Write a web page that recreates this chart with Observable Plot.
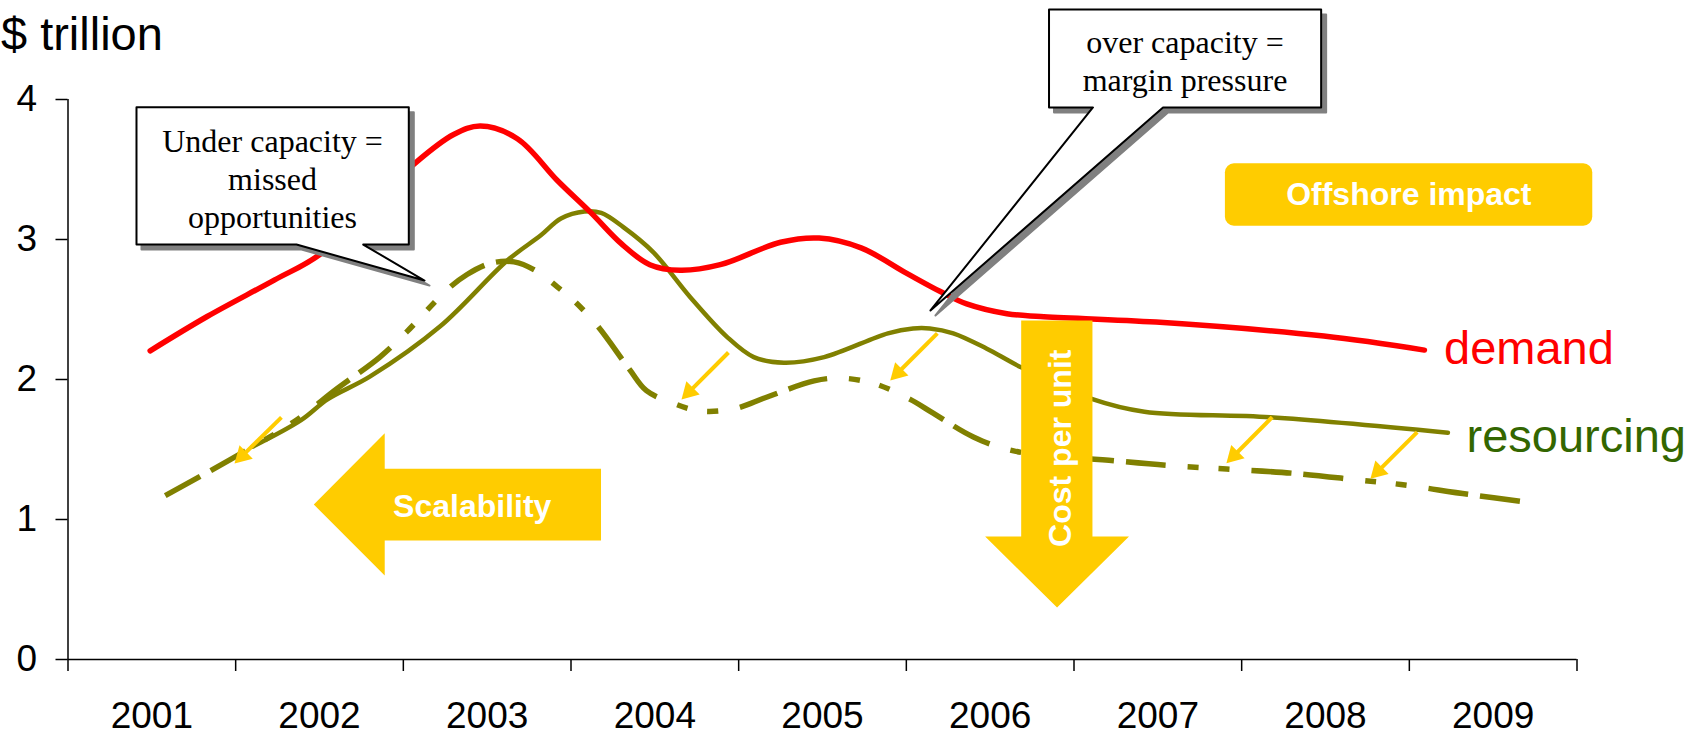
<!DOCTYPE html>
<html>
<head>
<meta charset="utf-8">
<script src="https://cdn.jsdelivr.net/npm/d3@7"></script>
<script src="https://cdn.jsdelivr.net/npm/@observablehq/plot@0.6"></script>
<style>
  html, body { margin: 0; padding: 0; background: white; }
  #chart svg { display: block; }
</style>
</head>
<body>
<div id="chart"></div>
<script>
// ---------- data ----------
const years = [2001, 2002, 2003, 2004, 2005, 2006, 2007, 2008, 2009];
const yearEdges = [2000.5, 2001.5, 2002.5, 2003.5, 2004.5, 2005.5, 2006.5, 2007.5, 2008.5, 2009.5];
const yTicks = [0, 1, 2, 3, 4];

const demandX = [2000.99, 2001.33, 2001.73, 2002.01, 2002.56, 2002.80, 2002.96, 2003.18, 2003.42, 2003.62, 2003.80, 2003.97, 2004.15, 2004.39, 2004.75, 2004.98, 2005.23, 2005.50, 2005.70, 2005.86, 2006.10, 2006.30, 2006.99, 2007.99, 2008.59];
const demandY = [2.205, 2.45, 2.71, 2.90, 3.535, 3.75, 3.81, 3.72, 3.42, 3.19, 2.97, 2.82, 2.78, 2.82, 2.98, 3.01, 2.94, 2.76, 2.63, 2.54, 2.47, 2.45, 2.41, 2.31, 2.21];

const resourcingX = [2001.60, 2001.89, 2002.05, 2002.30, 2002.72, 2003.12, 2003.32, 2003.44, 2003.58, 2003.68, 2003.81, 2003.99, 2004.21, 2004.43, 2004.59, 2004.77, 2005.01, 2005.39, 2005.54, 2005.64, 2005.78, 2005.98, 2006.18, 2006.61, 2006.92, 2007.67, 2008.73];
const resourcingY = [1.52, 1.71, 1.86, 2.02, 2.38, 2.85, 3.03, 3.15, 3.20, 3.19, 3.09, 2.91, 2.59, 2.305, 2.16, 2.12, 2.16, 2.33, 2.365, 2.365, 2.33, 2.22, 2.09, 1.86, 1.77, 1.73, 1.62];

const offshoreX = [2001.08, 2001.47, 2001.85, 2002.10, 2002.36, 2002.52, 2002.76, 2002.88, 2003.02, 2003.16, 2003.30, 2003.42, 2003.52, 2003.66, 2003.85, 2003.95, 2004.11, 2004.27, 2004.47, 2004.67, 2004.95, 2005.11, 2005.31, 2005.52, 2005.66, 2005.90, 2006.14, 2006.74, 2007.06, 2007.41, 2007.81, 2008.21, 2008.45, 2008.85, 2009.23];
const offshoreY = [1.17, 1.43, 1.70, 1.93, 2.16, 2.34, 2.64, 2.75, 2.83, 2.84, 2.77, 2.66, 2.56, 2.38, 2.07, 1.92, 1.83, 1.775, 1.79, 1.875, 1.99, 2.01, 1.97, 1.86, 1.76, 1.59, 1.49, 1.42, 1.386, 1.36, 1.33, 1.28, 1.25, 1.18, 1.12];

// small yellow arrows (from resourcing to offshore line), data units
const arrowX1 = [2001.773, 2004.439, 2005.685, 2007.682, 2008.547];
const arrowY1 = [1.729, 2.193, 2.329, 1.731, 1.624];
const arrowX2 = [2001.493, 2004.159, 2005.404, 2007.409, 2008.268];
const arrowY2 = [1.400, 1.857, 1.993, 1.402, 1.291];

// annotation shapes, data units
const callout1X = [2000.9085, 2002.5326, 2002.5326, 2002.2606, 2002.6262, 2001.8628, 2000.9085, 2000.9085];
const callout1Y = [3.945, 3.945, 2.964, 2.964, 2.707, 2.964, 2.964, 3.945];
const callout2X = [2006.351, 2007.974, 2007.974, 2007.031, 2005.644, 2006.613, 2006.351, 2006.351];
const callout2Y = [4.643, 4.643, 3.943, 3.943, 2.493, 3.943, 3.943, 4.643];
const scaleArrowX = [2001.966, 2002.389, 2002.389, 2003.679, 2003.679, 2002.389, 2002.389, 2001.966];
const scaleArrowY = [1.107, 1.616, 1.362, 1.362, 0.850, 0.850, 0.600, 1.107];
const costArrowX = [2006.185, 2006.610, 2006.610, 2006.828, 2006.399, 2005.970, 2006.185, 2006.185];
const costArrowY = [2.421, 2.421, 0.879, 0.879, 0.371, 0.879, 0.879, 2.421];
const offshoreBox = {x1: 2007.403, x2: 2009.594, y1: 3.095, y2: 3.541};

const labels = [
  {text: "Under capacity =\nmissed\nopportunities", x: 2001.72, y: 3.442},
  {text: "over capacity =\nmargin pressure", x: 2007.162, y: 4.282}
];

// ---------- layout ----------
const W = 1706, H = 734, ML = 67.5, MR = 129.5, MT = 99, MB = 75;
const pxX = (W - ML - MR) / 9, pxY = (H - MT - MB) / 4;

const toPts = (xs, ys) => xs.map((x, i) => ({x, y: ys[i]}));
const demand = toPts(demandX, demandY);
const resourcing = toPts(resourcingX, resourcingY);
const offshore = toPts(offshoreX, offshoreY);

const headR = 7;
const tipDist = 2 * Math.sqrt((headR * headR * Math.PI) / (Math.sqrt(3) * 3));
const arrows = arrowX1.map((x1, i) => {
  const y1 = arrowY1[i], x2 = arrowX2[i], y2 = arrowY2[i];
  const dxp = (x2 - x1) * pxX, dyp = -(y2 - y1) * pxY;
  const len = Math.hypot(dxp, dyp), ux = dxp / len, uy = dyp / len;
  const cx = x2 - (ux * tipDist) / pxX, cy = y2 + (uy * tipDist) / pxY;
  return {x1, y1, cx, cy, rot: Math.atan2(ux, -uy) * 180 / Math.PI};
});

const YELLOW = "#FFCC00", OLIVE = "#808000", RED = "#FF0000", GREEN = "#336600";
const SANS = "Liberation Sans, Arial, sans-serif";
const SERIF = "Liberation Serif, Times New Roman, serif";

const chart = Plot.plot({
  width: W, height: H,
  marginLeft: ML, marginRight: MR, marginTop: MT, marginBottom: MB,
  x: {domain: [2000.5, 2009.5]},
  y: {domain: [0, 4]},
  style: {fontFamily: SANS, background: "white", color: "black", overflow: "visible"},
  marks: [
    Plot.axisY(yTicks, {tickSize: 12, tickPadding: 19, fontSize: 37, tickFormat: d => String(d), label: null, strokeWidth: 1.5}),
    Plot.axisX(yearEdges, {tickSize: 12, tickFormat: () => "", label: null, strokeWidth: 1.5}),
    Plot.axisX(years, {tickSize: 0, tickPadding: 42, fontSize: 37, tickFormat: d => String(d), label: null}),
    Plot.ruleX([2000.5], {y1: 0, y2: 4, strokeWidth: 1.5}),
    Plot.ruleY([0], {strokeWidth: 1.5}),

    Plot.line(offshore, {x: "x", y: "y", stroke: OLIVE, strokeWidth: 5.5, curve: "catmull-rom", strokeDasharray: "40,12,40,22,11,20,11,22", strokeLinecap: "butt"}),
    Plot.line(resourcing, {x: "x", y: "y", stroke: OLIVE, strokeWidth: 4.5, curve: "catmull-rom"}),
    Plot.line(demand, {x: "x", y: "y", stroke: RED, strokeWidth: 5.5, curve: "catmull-rom", strokeLinecap: "round"}),

    Plot.link(arrows, {x1: "x1", y1: "y1", x2: "cx", y2: "cy", stroke: YELLOW, strokeWidth: 4}),
    Plot.dot(arrows, {x: "cx", y: "cy", r: headR, symbol: "triangle", fill: YELLOW, stroke: "none", rotate: "rot"}),

    Plot.line(toPts(scaleArrowX, scaleArrowY), {x: "x", y: "y", fill: YELLOW, stroke: "none"}),
    Plot.text(["Scalability"], {x: 2002.911, y: 1.089, fill: "white", fontWeight: "bold", fontSize: 32, fontFamily: SANS}),
    Plot.line(toPts(costArrowX, costArrowY), {x: "x", y: "y", fill: YELLOW, stroke: "none"}),
    Plot.text(["Cost per unit"], {x: 2006.418, y: 1.509, rotate: -90, fill: "white", fontWeight: "bold", fontSize: 32, fontFamily: SANS}),
    Plot.rect([offshoreBox], {x1: "x1", x2: "x2", y1: "y1", y2: "y2", fill: YELLOW, rx: 9}),
    Plot.text(["Offshore impact"], {x: 2008.497, y: 3.318, fill: "white", fontWeight: "bold", fontSize: 32, fontFamily: SANS}),

    Plot.line(toPts(callout1X, callout1Y), {x: "x", y: "y", fill: "#808080", stroke: "#808080", strokeWidth: 2, dx: 5, dy: 5}),
    Plot.line(toPts(callout1X, callout1Y), {x: "x", y: "y", fill: "white", stroke: "black", strokeWidth: 2}),
    Plot.line(toPts(callout2X, callout2Y), {x: "x", y: "y", fill: "#808080", stroke: "#808080", strokeWidth: 2, dx: 5, dy: 5}),
    Plot.line(toPts(callout2X, callout2Y), {x: "x", y: "y", fill: "white", stroke: "black", strokeWidth: 2}),
    Plot.text(labels, {x: "x", y: "y", text: "text", fontFamily: SERIF, fontSize: 32, lineHeight: 1.19, fill: "black"}),

    Plot.text(["demand"], {x: 2008.707, y: 2.219, textAnchor: "start", fill: RED, fontSize: 47, fontFamily: SANS}),
    Plot.text(["resourcing"], {x: 2008.841, y: 1.588, textAnchor: "start", fill: GREEN, fontSize: 47, fontFamily: SANS}),
    Plot.text(["$ trillion"], {x: 2000.100, y: 4.462, textAnchor: "start", fill: "black", fontSize: 47, fontFamily: SANS})
  ]
});
document.getElementById("chart").appendChild(chart);
</script>
</body>
</html>
